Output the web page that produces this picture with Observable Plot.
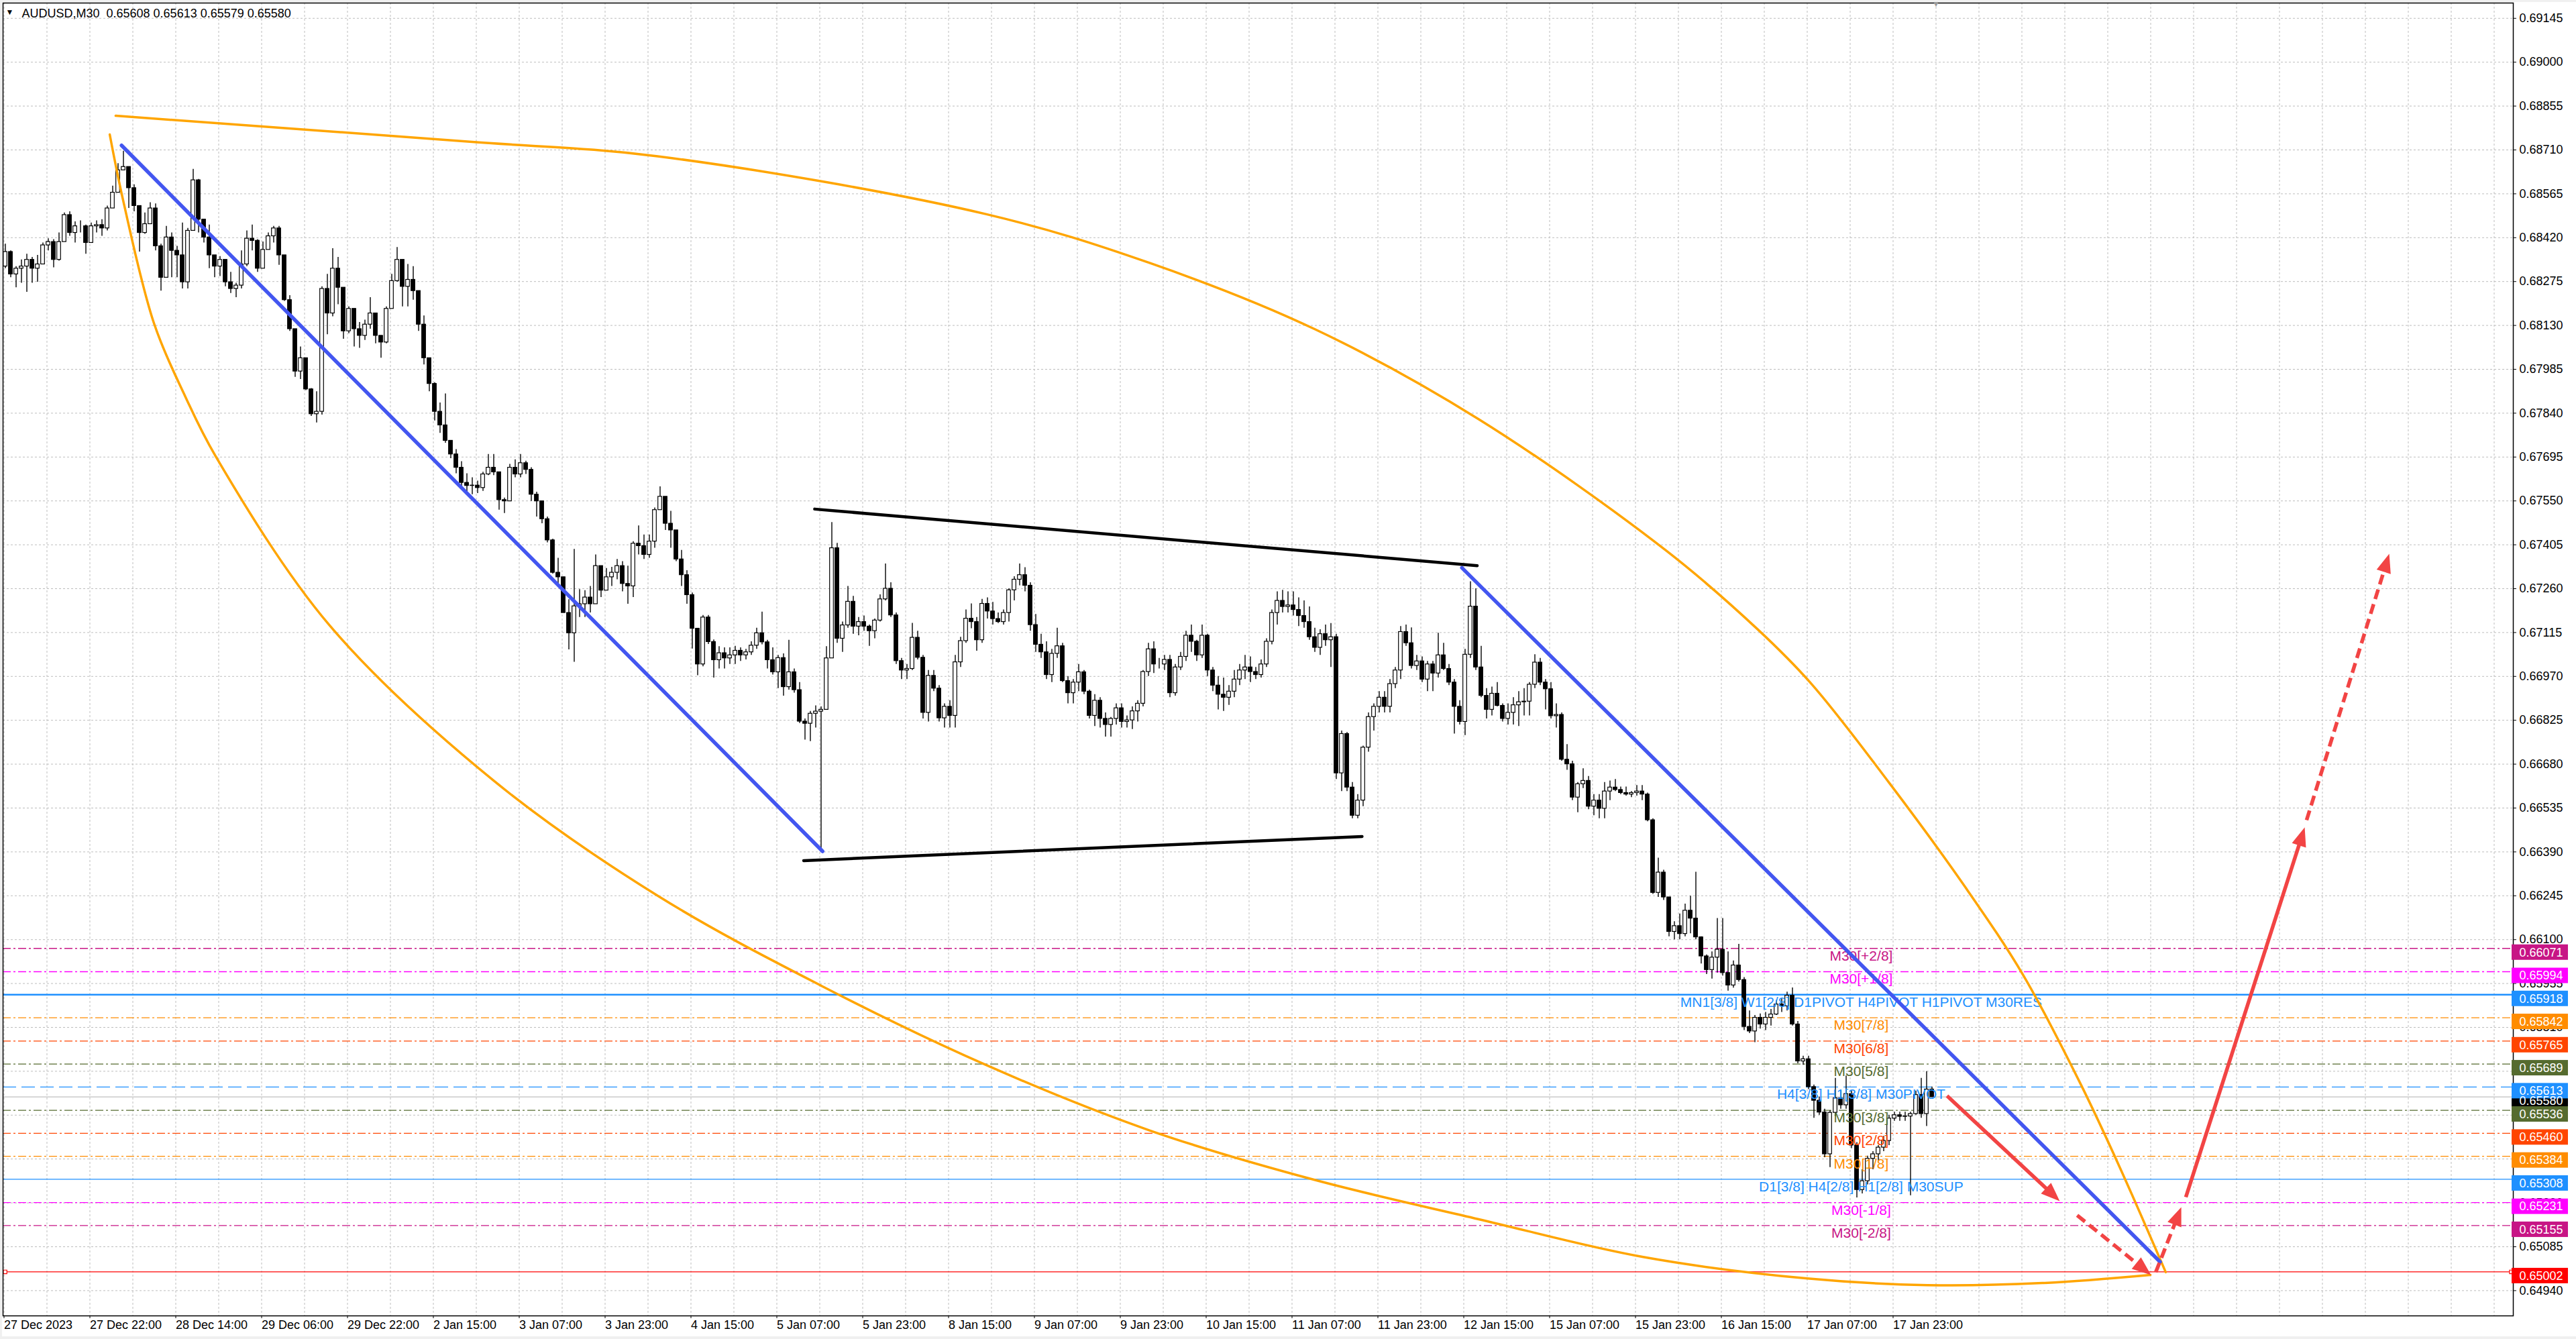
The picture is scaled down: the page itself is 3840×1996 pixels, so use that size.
<!DOCTYPE html>
<html><head><meta charset="utf-8">
<script src="https://cdn.jsdelivr.net/npm/d3@7"></script>
<script src="https://cdn.jsdelivr.net/npm/@observablehq/plot@0.6"></script>
<style>
html,body{margin:0;padding:0;background:#f0f0f0;overflow:hidden;width:3840px;height:1996px}
#chart{position:absolute;left:3px;top:3px}
</style></head><body><div id="chart"></div>
<script>
// ---------------- DATA ----------------
const symbolName = "AUDUSD,M30";
const quote = ["0.65608", "0.65613", "0.65579", "0.65580"];
// hourly candles (two M30 bars each), prices in 1e-5 units
const firstOpen = 68325;
const closes = [68373,68299,68318,68325,68347,68318,68332,68395,68406,68347,
68406,68495,68436,68458,68458,68403,68458,68462,68451,68517,
68569,68643,68654,68584,68525,68436,68465,68517,68392,68288,
68421,68377,68362,68273,68443,68610,68480,68421,68362,68325,
68347,68273,68251,68262,68332,68417,68410,68318,68380,68425,
68451,68362,68214,68118,67978,68022,67919,67837,67845,68251,
68170,68318,68255,68111,68185,68118,68096,68133,68170,68096,
68074,68185,68277,68347,68258,68281,68244,68133,68022,67937,
67845,67800,67749,67704,67660,67610,67600,67601,67593,67638,
67660,67645,67553,67549,67660,67638,67675,67653,67571,67549,
67490,67420,67313,67298,67180,67113,67202,67209,67231,67209,
67335,67254,67298,67313,67335,67276,67268,67409,67401,67372,
67416,67520,67564,67475,67453,67357,67305,67239,67128,67010,
67165,67084,67024,67047,67030,67040,67055,67040,67050,67072,
67113,67083,67024,66984,67031,66935,66984,66925,66821,66814,
66847,66854,66860,67030,67394,67095,67139,67217,67135,67150,
67135,67120,67155,67225,67260,67172,67021,66990,66995,67098,
67032,66850,66972,66930,66832,66870,66840,67017,67087,67161,
67150,67090,67210,67185,67160,67150,67180,67255,67290,67305,
67270,67140,67075,67050,66975,67045,67070,66955,66915,66950,
66984,66920,66840,66890,66830,66810,66830,66865,66820,66825,
66855,66880,66985,67060,67010,67010,67025,66915,67000,67035,
67105,67085,67040,67105,66990,66940,66910,66900,66920,66960,
66990,67000,66985,66975,67010,67085,67180,67220,67200,67205,
67190,67170,67150,67100,67065,67110,67090,67100,66650,66780,
66603,66510,66560,66735,66836,66870,66900,66870,66945,66990,
67117,67080,67005,67020,66960,67010,66980,67040,66995,66950,
66870,66820,67042,67201,67000,66906,66860,66913,66873,66830,
66850,66875,66885,66887,66943,67016,66950,66928,66839,66843,
66695,66680,66570,66614,66625,66540,66560,66533,66590,66603,
66595,66585,66580,66585,66590,66580,66495,66255,66322,66240,
66126,66145,66119,66196,66170,66108,66045,66000,66041,66067,
65990,65949,66015,65967,65812,65797,65842,65820,65842,65853,
65886,65880,65915,65820,65698,65705,65613,65568,65529,65391,
65528,65576,65553,65590,65420,65273,65302,65376,65391,65413,
65435,65509,65520,65515,65516,65524,65587,65524,65605,65580];
const highs = [68399,68377,68325,68347,68366,68355,68362,68403,68417,68414,
68436,68502,68506,68473,68476,68462,68469,68476,68480,68525,
68591,68665,68706,68654,68595,68506,68502,68536,68532,68399,
68458,68436,68392,68469,68451,68646,68613,68476,68462,68362,
68358,68318,68306,68270,68377,68443,68462,68414,68406,68436,
68458,68458,68347,68229,68118,68059,68007,67922,67911,68258,
68299,68384,68355,68251,68192,68155,68140,68148,68222,68140,
68096,68192,68299,68388,68347,68332,68325,68244,68162,68022,
67941,67874,67904,67745,67720,67680,67640,67627,67616,67645,
67704,67704,67645,67560,67671,67686,67704,67682,67660,67579,
67542,67497,67424,67361,67290,67224,67390,67257,67254,67268,
67372,67313,67327,67331,67357,67350,67335,67416,67468,67438,
67438,67527,67597,67564,67516,67453,67387,67320,67246,67128,
67172,67172,67091,67069,67065,67065,67070,67065,67060,67085,
67130,67183,67090,67065,67040,67045,67090,66995,66950,66830,
66855,66873,66870,67069,67479,67410,67150,67268,67235,67165,
67170,67140,67160,67240,67342,67280,67180,67030,67010,67146,
67120,67040,66990,66990,66940,66880,66890,67040,67100,67190,
67210,67165,67225,67230,67215,67180,67190,67260,67300,67342,
67330,67280,67175,67110,67085,67060,67130,67080,66970,66960,
67010,66990,66925,66910,66900,66850,66835,66880,66880,66840,
66870,66890,66990,67080,67085,67030,67040,67040,67010,67050,
67120,67140,67090,67140,67110,67000,66970,66965,66940,66990,
67010,67040,67035,67000,67025,67095,67190,67250,67255,67250,
67250,67230,67220,67200,67130,67125,67140,67145,67110,66790,
66785,66620,66580,66740,66850,66880,66920,66920,66960,67000,
67135,67140,67131,67040,67035,67020,67020,67113,67080,67010,
66960,66890,67060,67283,67260,67070,66930,66935,66950,66880,
66880,66900,66920,66930,66950,67042,67030,66960,66950,66880,
66850,66745,66690,66620,66665,66640,66580,66580,66620,66625,
66630,66605,66605,66590,66610,66610,66585,66500,66370,66330,
66240,66160,66185,66218,66244,66323,66110,66050,66060,66170,
66170,66060,66030,66085,65975,65865,65850,65855,65860,65870,
65900,65905,65927,65941,65830,65715,65715,65620,65580,65540,
65535,65642,65600,65650,65600,65430,65340,65385,65400,65420,
65450,65520,65530,65530,65530,65530,65600,65642,65664,65613];
const lows = [68318,68288,68255,68270,68240,68270,68273,68358,68377,68321,
68343,68406,68425,68403,68436,68366,68414,68436,68425,68443,
68517,68587,68643,68517,68506,68373,68432,68465,68377,68244,
68288,68288,68288,68251,68251,68443,68436,68403,68318,68288,
68292,68258,68236,68222,68251,68325,68377,68306,68343,68384,
68403,68329,68210,68111,67959,67952,67915,67830,67808,67834,
68100,68159,68199,68085,68103,68059,68055,68081,68118,68070,
68022,68070,68185,68273,68192,68192,68214,68111,68000,67911,
67815,67774,67741,67690,67640,67590,67570,67571,67575,67582,
67634,67634,67520,67509,67549,67627,67627,67638,67549,67497,
67475,67412,67309,67265,67180,67058,67017,67165,67165,67180,
67217,67231,67254,67268,67290,67250,67209,67231,67372,67357,
67361,67394,67520,67453,67394,67350,67268,67209,67061,66973,
67002,67076,66965,66995,66995,67010,67010,67020,67025,67040,
67060,67075,66995,66975,66930,66905,66925,66915,66815,66760,
66755,66800,66392,66860,67030,67080,67050,67130,67110,67105,
67120,67070,67095,67150,67220,67165,67010,66960,66960,66990,
67025,66830,66820,66920,66820,66800,66800,66800,67000,67080,
67128,67054,67080,67160,67140,67145,67140,67150,67220,67270,
67250,67120,67050,67030,66960,66950,67030,66950,66880,66880,
66920,66910,66830,66805,66800,66770,66770,66810,66800,66800,
66795,66820,66870,66970,66980,66995,66990,66900,66905,66990,
67020,67050,67020,67030,66970,66920,66860,66855,66875,66900,
66940,66960,66950,66960,66965,67000,67075,67140,67180,67180,
67170,67135,67130,67090,67050,67040,67070,67000,66630,66590,
66590,66500,66500,66540,66720,66790,66850,66850,66850,66930,
66960,67070,66995,66990,66950,66920,66920,66965,66990,66940,
66780,66810,66775,67030,66990,66900,66830,66840,66870,66820,
66810,66810,66805,66840,66840,66930,66940,66860,66830,66800,
66690,66660,66560,66520,66600,66530,66510,66500,66500,66560,
66590,66580,66575,66570,66575,66560,66490,66250,66240,66230,
66110,66100,66100,66110,66120,66100,66020,65985,65970,65990,
65980,65930,65940,65960,65800,65790,65760,65805,65800,65815,
65850,65860,65865,65815,65690,65685,65605,65510,65520,65380,
65347,65515,65540,65540,65410,65247,65260,65290,65340,65370,
65400,65420,65500,65500,65500,65254,65520,65510,65483,65579];

// time axis (M30 bar index of each label)
const timeLabels = ["27 Dec 2023","27 Dec 22:00","28 Dec 14:00","29 Dec 06:00","29 Dec 22:00","2 Jan 15:00","3 Jan 07:00","3 Jan 23:00","4 Jan 15:00","5 Jan 07:00","5 Jan 23:00","8 Jan 15:00","9 Jan 07:00","9 Jan 23:00","10 Jan 15:00","11 Jan 07:00","11 Jan 23:00","12 Jan 15:00","15 Jan 07:00","15 Jan 23:00","16 Jan 15:00","17 Jan 07:00","17 Jan 23:00"];
const timeLabelBars = [0,32,64,96,128,160,192,224,256,288,320,352,384,416,448,480,512,544,576,608,640,672,704];
const gridBars = [0,16,32,48,64,80,96,112,128,144,160,176,192,208,224,240,256,272,288,304,320,336,352,368,384,400,416,432,448,464,480,496,512,528,544,560,576,592,608,624,640,656,672,688,704,720,736,752,768,784,800,816,832,848,864,880,896,912,928];
const priceTicks = [0.64940,0.65085,0.65230,0.65375,0.65520,0.65665,0.65810,0.65955,0.66100,0.66245,0.66390,0.66535,0.66680,0.66825,0.66970,0.67115,0.67260,0.67405,0.67550,0.67695,0.67840,0.67985,0.68130,0.68275,0.68420,0.68565,0.68710,0.68855,0.69000,0.69145];

// Murrey / pivot levels
const levelPrices = [0.66071,0.65994,0.65918,0.65842,0.65765,0.65689,0.65613,0.65536,0.65460,0.65384,0.65308,0.65231,0.65155];
const levelNames = ["M30[+2/8]","M30[+1/8]","MN1[3/8] W1[2/8] D1PIVOT H4PIVOT H1PIVOT M30RES","M30[7/8]","M30[6/8]","M30[5/8]","H4[3/8] H1[3/8] M30PIVOT","M30[3/8]","M30[2/8]","M30[1/8]","D1[3/8] H4[2/8] H1[2/8] M30SUP","M30[-1/8]","M30[-2/8]"];
const bidPrice = 0.65580;
const targetPrice = 0.65002;
const levelLabelBar = 692.1;

// drawn objects: [bar index, price*1e5]
const upperArc = [[41.6,68823],[173.6,68737],[243.6,68689],[365.9,68498],[427.1,68336],[488.4,68118],[549.6,67820],[619.4,67386],[653.6,67125],[673.6,66945],[702.4,66620],[731.1,66271],[752.6,65981],[774.1,65619],[788.4,65349],[805.6,65001]];
const lowerArc = [[39.4,68761],[44.5,68539],[56.0,68134],[67.5,67896],[78.9,67697],[121.1,67141],[182.4,66626],[243.6,66245],[304.7,65947],[365.9,65686],[427.1,65469],[488.4,65306],[549.6,65176],[610.9,65051],[672.1,64980],[716.8,64958],[759.6,64965],[799.9,64992]];
const blueLines = [[[43.8,68725],[305.05,66392]],[[543.3,67329],[803.5,65035]]];
const blackLines = [[[302.1,67523],[549,67336]],[[298,66361],[506.1,66441]]];
const arrowFrom = [[724.1,65584],[772.6,65189],[801.9,65001],[813.1,65249],[858.1,66495]];
const arrowTo = [[766.1,65236],[800.1,64992],[811.4,65216],[857.4,66471],[888.9,67375]];
const arrowDashed = [false,true,true,false,true];
const lineEndBars = [0.4, 934.4];
const shiftMarkBar = 720;

// ---------------- STYLE ----------------
const levelStyle = {
  "M30[+2/8]": {c:"#C71585", kind:"dashdot"},
  "M30[+1/8]": {c:"#FF00FF", kind:"dashdot"},
  "MN1[3/8] W1[2/8] D1PIVOT H4PIVOT H1PIVOT M30RES": {c:"#1E90FF", kind:"solidThick"},
  "M30[7/8]": {c:"#FF8C00", kind:"dashdot"},
  "M30[6/8]": {c:"#FF4500", kind:"dashdot"},
  "M30[5/8]": {c:"#556B2F", kind:"dashdot"},
  "H4[3/8] H1[3/8] M30PIVOT": {c:"#1E90FF", kind:"dashed"},
  "M30[3/8]": {c:"#556B2F", kind:"dashdot"},
  "M30[2/8]": {c:"#FF4500", kind:"dashdot"},
  "M30[1/8]": {c:"#FF8C00", kind:"dashdot"},
  "D1[3/8] H4[2/8] H1[2/8] M30SUP": {c:"#1E90FF", kind:"solid"},
  "M30[-1/8]": {c:"#FF00FF", kind:"dashdot"},
  "M30[-2/8]": {c:"#C71585", kind:"dashdot"}
};
const RED = "#F24444", BLUE = "#4356F0", ORANGE = "#FFA500", GRID = "#bdbdbd";
const FONT = "'Liberation Sans', Arial, sans-serif";

// ---------------- BUILD ----------------
const W = 3837, H = 1989;
const M = {top: 1, right: 94, bottom: 31, left: 1};
const xDomain = [-0.375, 935.125];
const yDomain = [0.648566, 0.6919555];
const xs = Plot.scale({x: {domain: xDomain, range: [M.left, W - M.right]}});
const ys = Plot.scale({y: {domain: yDomain, range: [H - M.bottom, M.top]}});

const candles = closes.map((c, k) => {
  const o = k === 0 ? firstOpen : closes[k - 1];
  return {i: 2 * k + 0.5, o: o / 1e5, c: c / 1e5,
          h: Math.max(highs[k], o, c) / 1e5, l: Math.min(lows[k], o, c) / 1e5};
});
const levels = levelPrices.map((p, k) => ({p, name: levelNames[k], ...levelStyle[levelNames[k]]}));
const byKind = kind => levels.filter(d => d.kind === kind);
const boxLabels = [{p: bidPrice, c: "#000000"}, ...levels.map(d => ({p: d.p, c: d.c})), {p: targetPrice, c: "#FF0000"}];
const toPts = arr => arr.map(([i, p]) => ({i, p: p / 1e5}));
const segs = (arr) => arr.map(([a, b]) => ({x1: a[0], y1: a[1] / 1e5, x2: b[0], y2: b[1] / 1e5}));

const arrows = arrowFrom.map(([i1, q1], k) => {
  const [i2, q2] = arrowTo[k];
  const X1 = xs.apply(i1), Y1 = ys.apply(q1 / 1e5), X2 = xs.apply(i2), Y2 = ys.apply(q2 / 1e5);
  const L = Math.hypot(X2 - X1, Y2 - Y1), ux = (X2 - X1) / L, uy = (Y2 - Y1) / L;
  return {x1: i1, y1: q1 / 1e5, x2: xs.invert(X2 - ux * 22), y2: ys.invert(Y2 - uy * 22),
          tx: i2, ty: q2 / 1e5, rot: Math.atan2(ux, -uy) * 180 / Math.PI, dashed: arrowDashed[k]};
});
const headShape = {draw(ctx, l, r) { ctx.moveTo(-r, 0); ctx.lineTo(0, -l); ctx.lineTo(r, 0); ctx.closePath(); }};
const fmt5 = d3.format(".5f");
const labelOf = new Map(timeLabelBars.map((b, k) => [b, timeLabels[k]]));

const chart = Plot.plot({
  width: W, height: H,
  marginTop: M.top, marginRight: M.right, marginBottom: M.bottom, marginLeft: M.left,
  x: {domain: xDomain},
  y: {domain: yDomain},
  color: {type: "identity"},
  style: {fontFamily: FONT, fontSize: "18px", background: "white", color: "black", overflow: "visible"},
  marks: [
    // grid
    Plot.ruleX(gridBars, {stroke: GRID, strokeDasharray: "3,3", strokeWidth: 1}),
    Plot.ruleY(priceTicks, {stroke: GRID, strokeDasharray: "3,3", strokeWidth: 1}),
    // level lines
    Plot.ruleY(byKind("dashdot"), {y: "p", stroke: "c", strokeWidth: 1.3, strokeDasharray: "12,4,3,4"}),
    Plot.ruleY(byKind("dashed"), {y: "p", stroke: "c", strokeWidth: 1.3, strokeDasharray: "20,8"}),
    Plot.ruleY(byKind("solidThick"), {y: "p", stroke: "c", strokeWidth: 2.6}),
    Plot.ruleY(byKind("solid"), {y: "p", stroke: "c", strokeWidth: 1.4}),
    Plot.ruleY([bidPrice], {stroke: "#c0c0c0", strokeWidth: 1.2}),
    Plot.ruleY([targetPrice], {stroke: "#FF0000", strokeWidth: 1.4}),
    Plot.dot(lineEndBars, {x: d => d, y: () => targetPrice, symbol: "square", r: 3, fill: "white", stroke: "#FF0000", strokeWidth: 1.2}),
    // candles
    Plot.ruleX(candles, {x: "i", y1: "l", y2: "h", stroke: "black", strokeWidth: 1.4}),
    Plot.rect(candles, {x1: d => d.i - 0.7, x2: d => d.i + 0.7, y1: "o", y2: "c",
      fill: d => d.c >= d.o ? "white" : "black", stroke: "black", strokeWidth: 1.2}),
    // level labels
    Plot.text(levels, {x: () => levelLabelBar, y: "p", text: "name", fill: "c", fontSize: 21,
      textAnchor: "middle", lineAnchor: "top", dy: 3}),
    // arcs and trend lines
    Plot.line(toPts(upperArc), {x: "i", y: "p", curve: "catmull-rom", stroke: ORANGE, strokeWidth: 3.5}),
    Plot.line(toPts(lowerArc), {x: "i", y: "p", curve: "catmull-rom", stroke: ORANGE, strokeWidth: 3.5}),
    Plot.link(segs(blueLines), {x1: "x1", y1: "y1", x2: "x2", y2: "y2", stroke: BLUE, strokeWidth: 5.5, strokeLinecap: "round"}),
    Plot.link(segs(blackLines), {x1: "x1", y1: "y1", x2: "x2", y2: "y2", stroke: "black", strokeWidth: 4.5, strokeLinecap: "round"}),
    // projection arrows
    Plot.link(arrows.filter(d => !d.dashed), {x1: "x1", y1: "y1", x2: "x2", y2: "y2", stroke: RED, strokeWidth: 5.5}),
    Plot.link(arrows.filter(d => d.dashed), {x1: "x1", y1: "y1", x2: "x2", y2: "y2", stroke: RED, strokeWidth: 5.5, strokeDasharray: "15,8"}),
    Plot.vector(arrows, {x: "tx", y: "ty", rotate: "rot", length: 28, r: 11, shape: headShape, anchor: "end", fill: RED, stroke: "none"}),
    // frame and axes
    Plot.frame({stroke: "black", strokeWidth: 1.5}),
    Plot.axisY({anchor: "right", ticks: priceTicks, tickFormat: fmt5, tickSize: 4, tickPadding: 5, fontSize: 18, textAnchor: "start"}),
    Plot.axisX({anchor: "bottom", ticks: timeLabelBars, tickFormat: d => labelOf.get(d), tickSize: 4, tickPadding: 3, fontSize: 18, textAnchor: "start"}),
    // coloured price labels on the right scale
    Plot.rect(boxLabels, {x1: () => xDomain[1], x2: () => xDomain[1], y1: "p", y2: "p",
      insetLeft: -2, insetRight: -82, insetTop: -11.5, insetBottom: -11.5, dy: 6, fill: "c"}),
    Plot.text(boxLabels, {x: () => xDomain[1], y: "p", text: d => fmt5(d.p), dx: 9, dy: 6, fill: "white",
      textAnchor: "start", fontSize: 18}),
    // title
    Plot.text([`${symbolName}\u00a0\u00a0${quote.join(" ")}`], {frameAnchor: "top-left", dx: 28, dy: 8.7,
      lineAnchor: "top", textAnchor: "start", fontSize: 18}),
    Plot.text(["\u25BC"], {frameAnchor: "top-left", dx: 10, dy: 14, lineAnchor: "middle", textAnchor: "middle", fontSize: 12}),
    Plot.text(["\u25BC"], {x: () => shiftMarkBar, frameAnchor: "top", dy: 2, lineAnchor: "middle", fill: "#9a9a9a", fontSize: 12})
  ]
});
document.getElementById("chart").appendChild(chart);
</script>
</body></html>
